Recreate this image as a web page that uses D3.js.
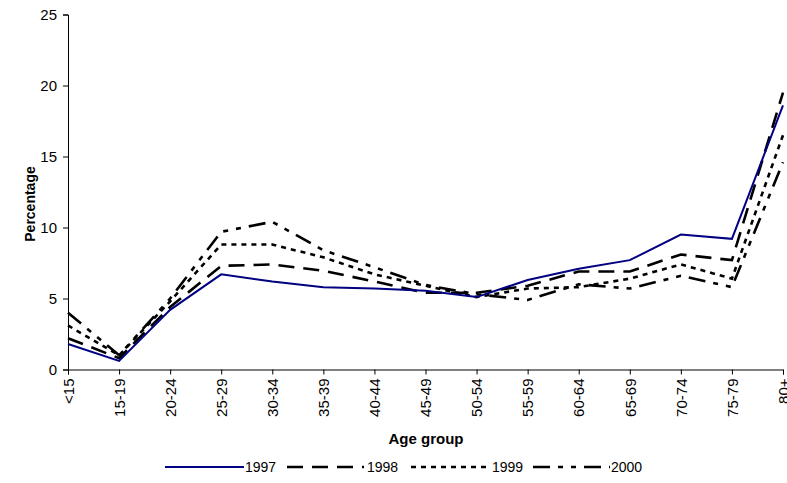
<!DOCTYPE html>
<html>
<head>
<meta charset="utf-8">
<script src="https://cdn.jsdelivr.net/npm/d3@7"></script>
<style>
  html, body { margin: 0; padding: 0; background: #fff; }
  svg { display: block; font-family: "Liberation Sans", Arial, sans-serif; }
</style>
</head>
<body>
<svg id="chart" width="787" height="483"></svg>
<script>
// Age groups along the x axis
const ageGroups = ["<15", "15-19", "20-24", "25-29", "30-34", "35-39", "40-44", "45-49",
                   "50-54", "55-59", "60-64", "65-69", "70-74", "75-79", "80+"];

// Percentage of cases in each age group, by year
const y1997 = [1.8, 0.6, 4.2, 6.7, 6.2, 5.8, 5.7, 5.55, 5.1, 6.3, 7.1, 7.7, 9.5, 9.2, 18.6];
const y1998 = [2.2, 0.8, 4.4, 7.3, 7.4, 6.95, 6.2, 5.4, 5.4, 5.9, 6.9, 6.9, 8.1, 7.7, 19.5];
const y1999 = [3.1, 1.0, 4.8, 8.8, 8.8, 7.9, 6.7, 5.9, 5.1, 5.7, 5.8, 6.4, 7.4, 6.4, 16.5];
const y2000 = [4.0, 1.0, 5.0, 9.7, 10.4, 8.4, 7.2, 5.95, 5.3, 4.9, 6.0, 5.7, 6.6, 5.8, 14.6];

const yTicks = [0, 5, 10, 15, 20, 25];

const series = [
  { name: "1997", values: y1997, color: "#000080", width: 2,   dash: null },
  { name: "1998", values: y1998, color: "#000000", width: 2.6, dash: "16,9" },
  { name: "1999", values: y1999, color: "#000000", width: 2.6, dash: "5,5" },
  { name: "2000", values: y2000, color: "#000000", width: 2.6, dash: "17,8,5,8,5,8" }
];

const svg = d3.select("#chart");

const x = d3.scalePoint().domain(ageGroups).range([68, 783]);
const y = d3.scaleLinear().domain([0, 25]).range([369.5, 14.5]);

// Axes
const xAxis = svg.append("g")
  .attr("transform", `translate(0,${y(0)})`)
  .call(d3.axisBottom(x).tickSizeOuter(0).tickSize(5).tickPadding(4));
xAxis.selectAll("text")
  .attr("transform", "rotate(-90)")
  .attr("text-anchor", "end")
  .attr("x", -9)
  .attr("y", 0)
  .attr("dy", "0.35em")
  .style("font-size", "15px")
  .style("fill", "#000");

const yAxis = svg.append("g")
  .attr("transform", `translate(${x(ageGroups[0])},0)`)
  .call(d3.axisLeft(y).tickValues(yTicks).tickSizeOuter(0).tickSize(5).tickPadding(6));
yAxis.selectAll("text").style("font-size", "15px").style("fill", "#000");

svg.selectAll(".domain, .tick line").attr("stroke", "#000").attr("stroke-width", 1);
svg.selectAll(".tick text").attr("font-family", null);

// Axis titles
svg.append("text")
  .attr("transform", `translate(35,204) rotate(-90)`)
  .attr("text-anchor", "middle")
  .style("font-size", "14px")
  .style("font-weight", "bold")
  .text("Percentage");

svg.append("text")
  .attr("x", 426)
  .attr("y", 444)
  .attr("text-anchor", "middle")
  .style("font-size", "15px")
  .style("font-weight", "bold")
  .text("Age group");

// Series lines
const line = d3.line()
  .x((d, i) => x(ageGroups[i]))
  .y(d => y(d));

// Draw the dashed series first so the solid line sits on top
[...series].reverse().forEach(s => {
  svg.append("path")
    .datum(s.values)
    .attr("fill", "none")
    .attr("stroke", s.color)
    .attr("stroke-width", s.width)
    .attr("stroke-dasharray", s.dash)
    .attr("stroke-linejoin", "miter")
    .attr("d", line);
});

// Legend
const legendItems = [
  { x1: 165, x2: 244, tx: 245 },
  { x1: 287, x2: 364, tx: 367 },
  { x1: 411, x2: 490, tx: 492 },
  { x1: 533, x2: 610, tx: 611 }
];
const legendY = 467;
const legend = svg.append("g");
series.forEach((s, i) => {
  const p = legendItems[i];
  legend.append("line")
    .attr("x1", p.x1).attr("x2", p.x2)
    .attr("y1", legendY).attr("y2", legendY)
    .attr("stroke", s.color)
    .attr("stroke-width", s.width)
    .attr("stroke-dasharray", s.dash);
  legend.append("text")
    .attr("x", p.tx)
    .attr("y", legendY)
    .attr("dy", "0.35em")
    .style("font-size", "14px")
    .text(s.name);
});
</script>
</body>
</html>
